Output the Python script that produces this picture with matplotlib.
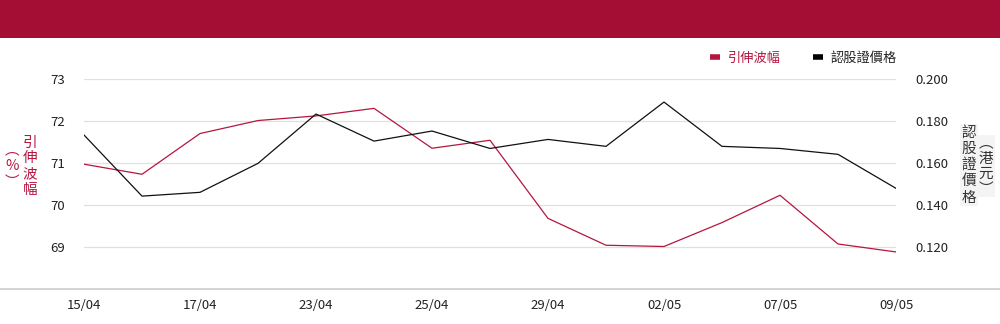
import matplotlib
matplotlib.use("Agg")
import matplotlib.pyplot as plt
from matplotlib.lines import Line2D
from matplotlib.patches import Rectangle

plt.rcParams['font.family'] = ['Noto Sans CJK TC', 'DejaVu Sans']

# data
dates = ['15/04', '16/04', '17/04', '22/04', '23/04', '24/04', '25/04', '26/04',
         '29/04', '30/04', '02/05', '06/05', '07/05', '08/05', '09/05']
vol = [70.98, 70.74, 71.71, 72.02, 72.13, 72.31, 71.36, 71.55,
       69.69, 69.05, 69.02, 69.59, 70.24, 69.08, 68.89]
price = [0.1735, 0.1444, 0.1462, 0.1600, 0.1835, 0.1706, 0.1754, 0.1671,
         0.1714, 0.1681, 0.1892, 0.1681, 0.1671, 0.1643, 0.1481]
left_ticks = [69, 70, 71, 72, 73]
right_ticks = [0.120, 0.140, 0.160, 0.180, 0.200]

red = '#b5163f'
head = '#a50e34'

fig = plt.figure(figsize=(10, 3.24), dpi=100)
fig.set_facecolor('white')

# header band
fig.patches.append(Rectangle((0, 1 - 38 / 324), 1, 38 / 324, transform=fig.transFigure,
                             facecolor=head, edgecolor='none'))
# bottom rule across the whole width
fig.add_artist(Line2D([0, 1], [0.107, 0.107], transform=fig.transFigure,
                      color='#cccccc', lw=1.2))

ax = fig.add_axes([0.084, 0.107, 0.812, 0.648])
x = list(range(len(dates)))
ax.plot(x, vol, color=red, lw=0.9, zorder=3)
ax.set_ylim(68, 73)
ax.set_xlim(0, len(dates) - 1)
ax.set_yticks(left_ticks)
ax.set_yticklabels([str(t) for t in left_ticks])
ax.set_xticks(x[::2])
ax.set_xticklabels(dates[::2])
ax.grid(axis='y', color='#e0e0e0', lw=0.9, zorder=0)
ax.tick_params(axis='y', length=0, pad=14, labelsize=9.5, colors='#222222')
ax.tick_params(axis='x', length=0, pad=7, labelsize=9.5, colors='#222222')
for s in ax.spines.values():
    s.set_visible(False)

ax2 = ax.twinx()
ax2.plot(x, price, color='#111111', lw=0.9, zorder=3)
ax2.set_ylim(0.100, 0.200)
ax2.set_yticks(right_ticks)
ax2.set_yticklabels(['%.3f' % t for t in right_ticks])
ax2.tick_params(axis='y', length=0, pad=14, labelsize=9.5, colors='#222222')
for s in ax2.spines.values():
    s.set_visible(False)

# vertical axis titles
fig.text(0.030, 0.487, '引\n伸\n波\n幅', color=red, fontsize=10.5, ha='center', va='center',
         linespacing=1.15)
fig.text(0.012, 0.487, '︵\n%\n︶', color=red, fontsize=10.5, ha='center', va='center',
         linespacing=1.15)
fig.text(0.969, 0.49, '認\n股\n證\n價\n格', color='#333333', fontsize=10.5, ha='center',
         va='center', linespacing=1.2,
         bbox=dict(facecolor='#f4f4f4', edgecolor='none', pad=1))
fig.text(0.986, 0.487, '︵\n港\n元\n︶', color='#333333', fontsize=10.5, ha='center',
         va='center', linespacing=1.1,
         bbox=dict(facecolor='#f4f4f4', edgecolor='none', pad=1))

# legend
handles = [Line2D([], [], color=red, lw=4, solid_capstyle='butt'),
           Line2D([], [], color='#000000', lw=4, solid_capstyle='butt')]
fig.legend(handles, ['引伸波幅', '認股證價格'], loc='center right',
           bbox_to_anchor=(0.897, 0.821), ncol=2, frameon=False, fontsize=9.5,
           handlelength=0.75, handletextpad=0.6, columnspacing=2.4,
           borderpad=0, borderaxespad=0, labelcolor=[red, '#222222'])

plt.savefig('out.png', dpi=100)
